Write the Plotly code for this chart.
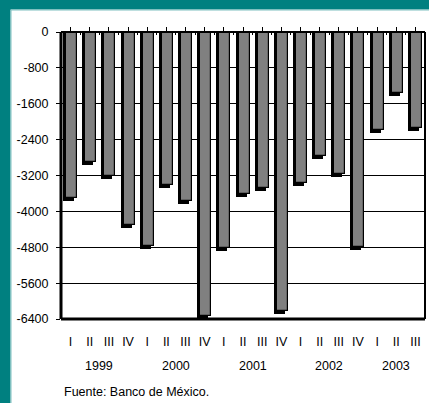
import plotly.graph_objects as go

quarters = ["I", "II", "III", "IV", "I", "II", "III", "IV", "I", "II", "III", "IV",
            "I", "II", "III", "IV", "I", "II", "III"]
years = ["1999", "2000", "2001", "2002", "2003"]
year_sizes = [4, 4, 4, 4, 3]
values = [-3700, -2890, -3200, -4300,
          -4770, -3410, -3760, -6330,
          -4820, -3610, -3480, -6220,
          -3370, -2770, -3160, -4790,
          -2190, -1365, -2130]
yticks = [0, -800, -1600, -2400, -3200, -4000, -4800, -5600, -6400]
source = "Fuente: Banco de México."

W, H = 429, 403
L, R, T, B = 61, 4, 32, 84
pw, ph = W - L - R, H - T - B
n = len(values)
px_per_cat = pw / n
px_per_val = ph / 6400.0

FONT = "Liberation Sans, Arial, sans-serif"
FS = 12.5
TEAL = "#008080"

xs = list(range(n))
body_w = 11 / px_per_cat
body_off = -4.5 / px_per_cat
shadow_off = -7.5 / px_per_cat
shadow_drop = 3 / px_per_val

def px_x(p):
    return (p - L) / pw

def px_y(p):
    return (T + ph - p) / ph

fig = go.Figure()
fig.add_trace(go.Bar(x=xs, y=[v - shadow_drop for v in values], width=body_w, offset=shadow_off,
                     marker=dict(color="black", line=dict(width=0)), hoverinfo="skip",
                     showlegend=False))
fig.add_trace(go.Bar(x=xs, y=values, width=body_w, offset=body_off,
                     marker=dict(color="#808080", line=dict(color="black", width=1.2)),
                     showlegend=False))

annotations = []
start = 0
for yr, sz in zip(years, year_sizes):
    cx = start + (sz - 1) / 2
    annotations.append(dict(x=cx, xref="x", y=px_y(366), yref="paper",
                            text=yr, showarrow=False, font=dict(size=FS, color="black", family=FONT),
                            xanchor="center", yanchor="middle"))
    start += sz
annotations.append(dict(x=px_x(62), xref="paper", y=px_y(392), yref="paper",
                        text=source, showarrow=False, xanchor="left", yanchor="middle",
                        font=dict(size=FS, color="black", family=FONT)))

shapes = [
    dict(type="rect", xref="paper", yref="paper", x0=px_x(0), x1=px_x(W), y0=px_y(0), y1=px_y(9.5),
         fillcolor=TEAL, line=dict(width=0), layer="above"),
    dict(type="rect", xref="paper", yref="paper", x0=px_x(0), x1=px_x(10.5), y0=px_y(0), y1=px_y(H),
         fillcolor=TEAL, line=dict(width=0), layer="above"),
    dict(type="line", xref="paper", yref="paper", x0=px_x(11), x1=px_x(11), y0=px_y(10), y1=px_y(H),
         line=dict(color="#7fbfbf", width=1), layer="above"),
    dict(type="line", xref="paper", yref="paper", x0=px_x(11), x1=px_x(W), y0=px_y(10), y1=px_y(10),
         line=dict(color="#7fbfbf", width=1), layer="above"),
    dict(type="line", xref="paper", yref="paper", x0=0, x1=0, y0=0, y1=1,
         line=dict(color="black", width=3), layer="above"),
    dict(type="line", xref="paper", yref="paper", x0=0, x1=1, y0=0, y1=0,
         line=dict(color="black", width=3), layer="above"),
    dict(type="line", xref="paper", yref="paper", x0=1, x1=1, y0=0, y1=1,
         line=dict(color="black", width=2), layer="above"),
    dict(type="line", xref="paper", yref="paper", x0=0, x1=1, y0=1, y1=1,
         line=dict(color="black", width=2), layer="above"),
]

fig.update_layout(
    width=W, height=H,
    margin=dict(l=L, r=R, t=T, b=B, pad=0),
    paper_bgcolor="white", plot_bgcolor="white",
    barmode="overlay", bargap=0,
    font=dict(family=FONT, size=FS, color="black"),
    annotations=annotations, shapes=shapes,
    xaxis=dict(range=[-0.5, n - 0.5], tickvals=xs, ticktext=quarters, showgrid=False,
               zeroline=False, showline=False, ticks="", tickfont=dict(size=FS),
               ticklabelstandoff=13),
    xaxis2=dict(range=[-0.5, n - 0.5], overlaying="x", side="top", tickvals=xs,
                showticklabels=False, ticks="outside", ticklen=4, tickwidth=1,
                tickcolor="black", showgrid=False, zeroline=False, showline=False),
    xaxis3=dict(range=[-0.5, n - 0.5], overlaying="x", side="top",
                tickvals=[i + 0.5 for i in range(n - 1)],
                showticklabels=False, ticks="inside", ticklen=3, tickwidth=1,
                tickcolor="black", showgrid=False, zeroline=False, showline=False),
    yaxis=dict(range=[-6400, 0], tickvals=yticks, ticktext=[str(v) for v in yticks],
               showgrid=True, gridcolor="black", gridwidth=1, zeroline=False,
               showline=False, ticks="outside", ticklen=4, tickcolor="black",
               tickfont=dict(size=FS), ticklabelstandoff=5),
)
fig.add_trace(go.Scatter(x=[0], y=[0], xaxis="x2", mode="markers", marker=dict(opacity=0),
                         hoverinfo="skip", showlegend=False))
fig.add_trace(go.Scatter(x=[0], y=[0], xaxis="x3", mode="markers", marker=dict(opacity=0),
                         hoverinfo="skip", showlegend=False))

fig.write_html("out.html", config={"displayModeBar": False},
               post_script="document.body.style.margin='0';document.body.style.overflow='hidden';")
